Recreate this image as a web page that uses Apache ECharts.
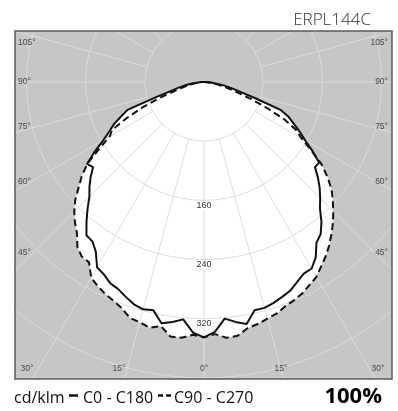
<!DOCTYPE html>
<html><head><meta charset="utf-8">
<script src="https://cdn.jsdelivr.net/npm/echarts@6/dist/echarts.min.js"></script>
<style>html,body{margin:0;padding:0;background:#fff}#c{width:398px;height:411px}</style>
</head><body><div id="c"></div>
<script>
// gamma angles (deg from nadir)
const gamma = [0,2.5,5,7.5,10,12.5,15,17.5,20,22.5,25,27.5,30,32.5,35,37.5,40,42.5,45,47.5,50,52.5,55,57.5,60,62.5,65,67.5,70,72.5,75,77.5,80,82.5,85,87.5,90];
// C0 - C180 plane (solid): right half C0, left half C180 (cd/klm)
const c0   = [345,338,321,327,332,316,316,313,309,305,298,292,291,281,265,259,247,232,222,212,201,189,190,174,158,146,134,124,110,72,50,38,28,17,9,3,0];
const c180 = [345,339,322,327,331,316,318,315,309,303,300,293,289,272,263,261,247,233,219,210,200,189,193,175,157,144,134,121,110,67,46,35,26,16,8,3,0];
// C90 - C270 plane (dashed): right half C90, left half C270
const c90  = [345,341,347,346,338,335,331,328,322,319,315,309,304,295,287,278,268,258,247,236,225,210,194,172,152,140,120,93,68,48,35,26,19,12,6,2,0];
const c270 = [345,342,347,347,335,340,336,334,325,320,316,311,305,289,288,281,267,258,248,236,221,208,192,168,147,140,115,90,66,45,32,24,17,11,6,2,0];
// grid / labels
const radiusTickLabels = [160,240,320];
const angleTicks = [0,15,30,45,60,75,90,105,120,135,150,165,180,195,210,225,240,255,270,285,300,315,330,345];
const sideAngleLabels = ['105°','90°','75°','60°','45°'];
const bottomAngleLabels = ['30°','15°','0°','15°','30°'];
const titleText = 'ERPL144C';
const unitText = 'cd/klm';
const planeTexts = ['C0 - C180','C90 - C270'];
const dimText = '100%';

const chart = echarts.init(document.getElementById('c'), null, {renderer:'canvas'});

function curve(right, left){
  const pts = [];
  for (let i = gamma.length-1; i >= 1; i--) pts.push([right[i], 360 - gamma[i]]);
  pts.push([right[0], 0]);
  for (let i = 1; i < gamma.length; i++) pts.push([left[i], gamma[i]]);
  return pts;
}
const solid = curve(c0, c180);
const dashed = curve(c90, c270);

const GRID = '#dcdcdc';
const series = [
  {type:'line', coordinateSystem:'polar', data:solid, symbol:'none', silent:true, z:1,
   lineStyle:{width:0}, areaStyle:{color:'#ffffff', opacity:1}},
  {type:'line', coordinateSystem:'polar', data:dashed, symbol:'none', silent:true, z:1,
   lineStyle:{width:0}, areaStyle:{color:'#ffffff', opacity:1}}
];
angleTicks.forEach(a => series.push({
  type:'line', coordinateSystem:'polar', data:[[80,a],[480,a]], symbol:'none', silent:true, z:2,
  lineStyle:{color:GRID, width:1}
}));
const solidIdx = series.length;
series.push({type:'line', coordinateSystem:'polar', data:solid, symbol:'none', silent:true, z:4,
  lineStyle:{color:'#111', width:2}});
series.push({type:'line', coordinateSystem:'polar', data:dashed, symbol:'none', silent:true, z:4,
  lineStyle:{color:'#111', width:2, type:[7,4]}});

// layout (positions of annotation texts)
const box = {x:15, y:31, w:377, h:348};
const sideY = [43, 82, 127, 182, 253];
const bottomX = [27, 119, 204, 281, 378];
const labelFont = '8.5px "Liberation Sans", sans-serif';
const labelColor = '#4a4a4a';

const graphic = [
  {type:'rect', id:'bg', z:-5, shape:{x:box.x, y:box.y, width:box.w, height:box.h}, style:{fill:'#c6c6c6'}, silent:true},
  {type:'rect', id:'mT', z:20, shape:{x:0, y:0, width:398, height:box.y}, style:{fill:'#fff'}, silent:true},
  {type:'rect', id:'mL', z:20, shape:{x:0, y:0, width:box.x, height:411}, style:{fill:'#fff'}, silent:true},
  {type:'rect', id:'mR', z:20, shape:{x:box.x+box.w, y:0, width:20, height:411}, style:{fill:'#fff'}, silent:true},
  {type:'rect', id:'mB', z:20, shape:{x:0, y:box.y+box.h, width:398, height:60}, style:{fill:'#fff'}, silent:true},
  {type:'rect', id:'border', z:21, shape:{x:box.x, y:box.y, width:box.w, height:box.h}, style:{fill:null, stroke:'#5a5a5a', lineWidth:1.5}, silent:true},
  {type:'text', id:'title', z:22, style:{text:titleText, x:371, y:20, textAlign:'right', textVerticalAlign:'middle', fill:'#333', font:'300 17px "Open Sans", sans-serif'}},
  {type:'text', id:'unit', z:22, style:{text:unitText, x:14, y:398, textAlign:'left', textVerticalAlign:'middle', fill:'#111', font:'16px "Open Sans", sans-serif'}},
  {type:'line', id:'legS', z:22, shape:{x1:69, y1:395.5, x2:78, y2:395.5}, style:{stroke:'#111', lineWidth:2.5}},
  {type:'text', id:'p1', z:22, style:{text:planeTexts[0], x:83, y:398, textAlign:'left', textVerticalAlign:'middle', fill:'#111', font:'16px "Open Sans", sans-serif'}},
  {type:'line', id:'legD', z:22, shape:{x1:158, y1:395.5, x2:172, y2:395.5}, style:{stroke:'#111', lineWidth:2.5, lineDash:[5,3]}},
  {type:'text', id:'p2', z:22, style:{text:planeTexts[1], x:174, y:398, textAlign:'left', textVerticalAlign:'middle', fill:'#111', font:'16px "Open Sans", sans-serif'}},
  {type:'text', id:'dim', z:22, style:{text:dimText, x:382, y:397, textAlign:'right', textVerticalAlign:'middle', fill:'#000', font:'bold 22px "Open Sans", sans-serif'}}
];
sideAngleLabels.forEach((t,i) => {
  graphic.push({type:'text', id:'sl'+i, z:22, style:{text:t, x:18, y:sideY[i], textAlign:'left', textVerticalAlign:'middle', fill:labelColor, font:labelFont}});
  graphic.push({type:'text', id:'sr'+i, z:22, style:{text:t, x:388, y:sideY[i], textAlign:'right', textVerticalAlign:'middle', fill:labelColor, font:labelFont}});
});
bottomAngleLabels.forEach((t,i) => {
  graphic.push({type:'text', id:'b'+i, z:22, style:{text:t, x:bottomX[i], y:369, textAlign:'center', textVerticalAlign:'middle', fill:labelColor, font:labelFont}});
});

chart.setOption({
  animation:false,
  backgroundColor:'#fff',
  polar:{center:[204,82], radius:355.2},
  angleAxis:{type:'value', min:0, max:360, startAngle:270, clockwise:true,
    axisLine:{show:false}, axisTick:{show:false}, axisLabel:{show:false}, splitLine:{show:false}},
  radiusAxis:{type:'value', min:0, max:480, interval:80, z:3,
    axisLine:{show:false}, axisTick:{show:false}, axisLabel:{show:false},
    splitLine:{show:true, lineStyle:{color:GRID, width:1}}},
  series:series,
  graphic:graphic
});

// radial value labels placed through the polar scale
const rl = radiusTickLabels.map((v,i) => {
  const p = chart.convertToPixel({seriesIndex:solidIdx}, [v, 0]);
  return {type:'text', id:'rl'+i, z:3, style:{text:String(v), x:p[0], y:p[1]+5, textAlign:'center', textVerticalAlign:'middle',
    fill:'#333', font:'9px "Liberation Sans", sans-serif', backgroundColor:'#fff', padding:[0,1]}};
});
chart.setOption({graphic: rl});
</script>
</body></html>
